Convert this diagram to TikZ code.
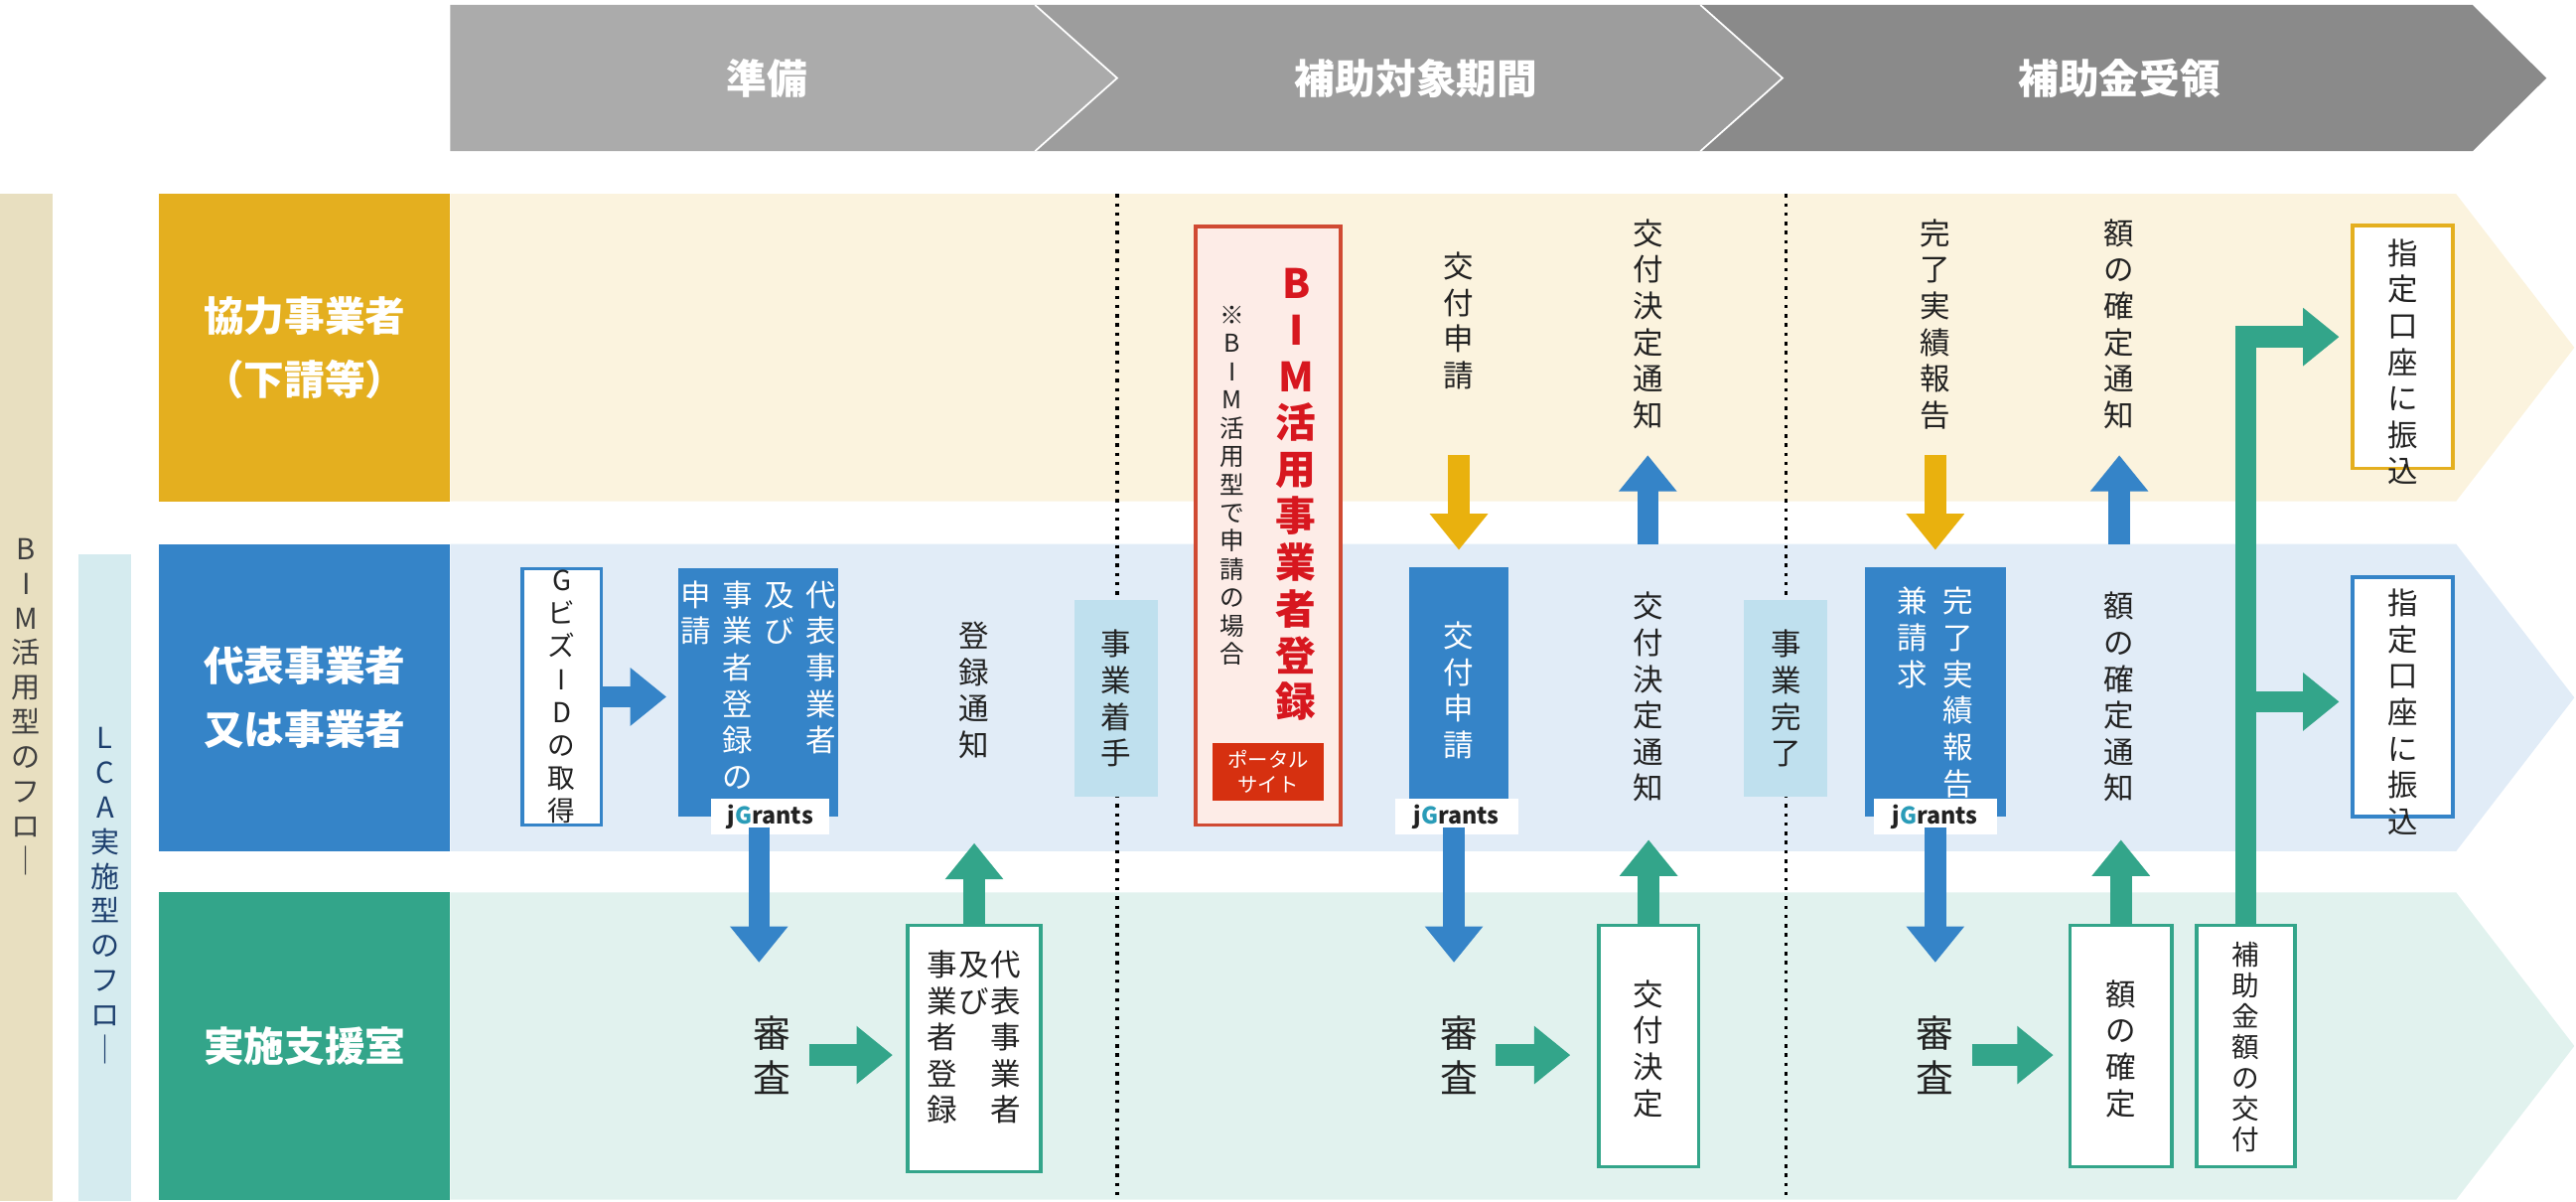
\documentclass[tikz,border=0pt]{standalone}
\usepackage{fontspec}
\setmainfont{Noto Sans CJK JP}
\usetikzlibrary{arrows.meta}
\definecolor{hdA}{HTML}{ABABAB}
\definecolor{hdB}{HTML}{9D9D9D}
\definecolor{hdC}{HTML}{8A8A8A}
\definecolor{yel}{HTML}{E4AF1F}
\definecolor{yelband}{HTML}{FBF3DE}
\definecolor{yarrow}{HTML}{E9B10E}
\definecolor{blu}{HTML}{3584C8}
\definecolor{bluband}{HTML}{E1ECF7}
\definecolor{grn}{HTML}{33A58A}
\definecolor{grnband}{HTML}{E1F2EE}
\definecolor{bimbar}{HTML}{E8DFC0}
\definecolor{lcabar}{HTML}{D5EBEF}
\definecolor{lcatext}{HTML}{1D3F6E}
\definecolor{redtxt}{HTML}{D7171F}
\definecolor{redfill}{HTML}{FDECE7}
\definecolor{redline}{HTML}{D04A33}
\definecolor{portal}{HTML}{D63010}
\definecolor{startbox}{HTML}{BFE0EE}
\definecolor{jteal}{HTML}{2A9CB8}
\definecolor{txt}{HTML}{222222}
\makeatletter
\newcommand\tate[2][1.2em]{\vtop{\hsize=1.05em \baselineskip=#1 \lineskip=0pt
  \@tfor\tchar:=#2\do{\hbox to\hsize{\hss\tchar\hss}}}}
\makeatother

\begin{document}
\begin{tikzpicture}[x=0.2mm,y=-0.2mm,
hdtext/.style={white, font=\fontsize{14}{16}\selectfont\bfseries},
rowlab/.style={text=white, align=center, font=\fontsize{14}{22}\selectfont\bfseries, minimum width=35.4mm, minimum height=37.4mm, inner sep=0pt},
tx/.style={text=txt, inner sep=0pt, font=\fontsize{10.5}{12}\selectfont},
wtx/.style={tx, text=white},
wbox/.style={draw=#1, fill=white, line width=1.3pt, inner sep=0pt, text=txt, font=\fontsize{10.5}{12}\selectfont},
fbox/.style={fill=#1, inner sep=0pt},
jg/.style={fill=white, inner sep=0pt, minimum width=14.4mm, minimum height=4.4mm, font=\fontsize{8}{9}\selectfont\bfseries, text=txt},
fat/.style={line width=2.6mm, -{Triangle[length=4.4mm,width=6.8mm]}},
barrow/.style={fat, blu},
garrow/.style={fat, grn},
yarr/.style={fat, yarrow},
]
\useasboundingbox (0,0) rectangle (1568,731);

% header
\fill[hdC] (1035,3) -- (1505,3) -- (1550,47.5) -- (1505,92) -- (1035,92) -- (1085,47.5) -- cycle;
\fill[hdB] (630,3) -- (1035,3) -- (1085,47.5) -- (1035,92) -- (630,92) -- (680,47.5) -- cycle;
\fill[hdA] (274,3) -- (630,3) -- (680,47.5) -- (630,92) -- (274,92) -- cycle;
\draw[white, line width=0.6pt] (630,3) -- (680,47.5) -- (630,92);
\draw[white, line width=0.6pt] (1035,3) -- (1085,47.5) -- (1035,92);
\node[hdtext] (h1) at (467,47.5) {準備};
\node[hdtext] (h2) at (862,47.5) {補助対象期間};
\node[hdtext] (h3) at (1290,47.5) {補助金受領};

% side bars
\fill[bimbar] (0,118) rectangle (32,731);
\fill[lcabar] (48,337) rectangle (80,731);
\node[tx, text=black!75, font=\fontsize{10}{12}\selectfont] (bimflow) at (16,430) {\tate{BIM活用型のフロ｜}};
\node[tx, text=lcatext, font=\fontsize{10}{12}\selectfont] (lcaflow) at (64,545) {\tate{LCA実施型のフロ｜}};

% bands
\fill[yelband] (274,118) -- (1495,118) -- (1567,211.5) -- (1495,305) -- (274,305) -- cycle;
\fill[bluband] (274,331) -- (1495,331) -- (1567,424.5) -- (1495,518) -- (274,518) -- cycle;
\fill[grnband] (274,543) -- (1495,543) -- (1567,636.5) -- (1495,730) -- (274,730) -- cycle;
\node[rowlab, fill=yel] (kyoryoku) at (185.5,211.5) {協力事業者\\（下請等）};
\node[rowlab, fill=blu] (daihyo) at (185.5,424.5) {代表事業者\\又は事業者};
\node[rowlab, fill=grn] (shien) at (185.5,636.5) {実施支援室};

% phase borders
\draw[dotted, line width=1.2pt] (680,118) -- (680,730);
\draw[dotted, line width=1.2pt] (1087,118) -- (1087,730);
\node[fbox=startbox, minimum width=10.2mm, minimum height=24mm, tx] (chakushu) at (679.5,425) {\tate{事業着手}};
\node[fbox=startbox, minimum width=10.2mm, minimum height=24mm, tx] (kanryo) at (1087,425) {\tate{事業完了}};

% preparation
\node[wbox=blu, minimum width=9.6mm, minimum height=31.2mm, font=\fontsize{9.5}{11}\selectfont] (gbiz) at (342,424) {\tate{GビズIDの取得}};
\node[fbox=blu, minimum width=19.4mm, minimum height=30.2mm] (toroku) at (461.5,421.5) {};
\node[wtx, anchor=north] (torokutx) at (461.5,353) {\tate{申請}\hspace{1.2mm}\tate{事業者登録の}\hspace{1.2mm}\tate{及び}\hspace{1.2mm}\tate{代表事業者}};
\node[jg] (jg1) at (469,497) {j{\color{jteal}G}rants};
\node[tx, font=\fontsize{13}{15}\selectfont] (shinsa1) at (470,642) {\tate{審査}};
\node[wbox=grn, minimum width=16.2mm, minimum height=30mm] (uketsuke) at (593,638) {};
\node[tx, anchor=north] (uketsuketx) at (593,578) {\tate{事業者登録}\tate{及び}\tate{代表事業者}};
\node[tx, anchor=north] (tsuchi1) at (593,378) {\tate{登録通知}};
\draw[barrow, shorten >=1.4mm] (gbiz.east) -- (gbiz.east -| toroku.west);
\draw[barrow, shorten <=-1mm, shorten >=6.4mm] (jg1.south -| 462,0) -- (shinsa1.north -| 462,0);
\draw[garrow, shorten <=2mm, shorten >=1.6mm] (shinsa1.east) -- (shinsa1.east -| uketsuke.west);
\draw[garrow, shorten >=1.4mm] (uketsuke.north) -- (593,506);

% BIM registration
\node[draw=redline, fill=redfill, line width=1.3pt, minimum width=17.6mm, minimum height=72.8mm, inner sep=0pt] (bim) at (772,320) {};
\node[tx, text=redtxt, anchor=north, font=\fontsize{14}{16}\selectfont\bfseries] (bimtx) at (789,163) {\tate[1.15em]{BIM活用事業者登録}};
\node[tx, anchor=north, font=\fontsize{8.5}{10}\selectfont] (bimnote) at (750,186) {\tate[1.15em]{※BIM活用型で申請の場合}};
\node[fbox=portal, minimum width=13.6mm, minimum height=7mm, text=white, align=center, font=\fontsize{7}{8.5}\selectfont] (portalsite) at (772,469.5) {ポータル\\サイト};

% grant application
\node[tx, anchor=north] (kofushinsei1) at (888,153) {\tate{交付申請}};
\node[fbox=blu, minimum width=12mm, minimum height=29.6mm] (kofushinsei) at (888,419) {};
\node[wtx, anchor=north] (kofushinseitx) at (888,378) {\tate{交付申請}};
\node[jg, minimum width=15mm] (jg2) at (886.5,497) {j{\color{jteal}G}rants};
\node[tx, font=\fontsize{13}{15}\selectfont] (shinsa2) at (888,642) {\tate{審査}};
\node[wbox=grn, minimum width=12.2mm, minimum height=29.4mm] (kettei) at (1003.5,636.5) {};
\node[tx, anchor=north] (ketteitx) at (1003.5,596) {\tate{交付決定}};
\node[tx, anchor=north] (ketteitsuchi2) at (1003,360) {\tate{交付決定通知}};
\node[tx, anchor=north] (ketteitsuchi1) at (1003,133) {\tate{交付決定通知}};
\draw[yarr, shorten >=2mm] (888,277) -- (kofushinsei.north);
\draw[barrow, shorten <=-1mm, shorten >=6.4mm] (jg2.south -| 885,0) -- (shinsa2.north -| 885,0);
\draw[garrow, shorten <=2mm, shorten >=3.2mm] (shinsa2.east) -- (shinsa2.east -| kettei.west);
\draw[garrow, shorten >=1.4mm] (kettei.north) -- (1003.5,504);
\draw[barrow] (1003,331) -- (1003,277);

% completion
\node[tx, anchor=north] (jisseki1) at (1178,133) {\tate{完了実績報告}};
\node[fbox=blu, minimum width=17.2mm, minimum height=30.4mm] (jisseki) at (1178,421) {};
\node[wtx, anchor=north] (jissekitx) at (1178,357) {\tate{兼請求}\hspace{1.6mm}\tate{完了実績報告}};
\node[jg, minimum width=15mm] (jg3) at (1178,497) {j{\color{jteal}G}rants};
\node[tx, font=\fontsize{13}{15}\selectfont] (shinsa3) at (1178,642) {\tate{審査}};
\node[wbox=grn, minimum width=12.4mm, minimum height=29.4mm] (kakutei) at (1291,636.5) {};
\node[tx, anchor=north] (kakuteitx) at (1291,596) {\tate{額の確定}};
\node[tx, anchor=north] (kakuteitsuchi2) at (1290,360) {\tate{額の確定通知}};
\node[tx, anchor=north] (kakuteitsuchi1) at (1290,133) {\tate{額の確定通知}};
\draw[yarr, shorten >=2mm] (1178,277) -- (jisseki.north);
\draw[barrow, shorten <=-1mm, shorten >=6.4mm] (jg3.south) -- (shinsa3.north);
\draw[garrow, shorten <=2mm, shorten >=1.8mm] (shinsa3.east) -- (shinsa3.east -| kakutei.west);
\draw[garrow, shorten >=1.4mm] (kakutei.north) -- (1291,504);
\draw[barrow] (1290,331) -- (1290,277);

% payment
\node[wbox=grn, minimum width=12mm, minimum height=29.4mm] (kofu) at (1367,636.5) {};
\node[tx, anchor=north, font=\fontsize{9.5}{11}\selectfont] (kofutx) at (1367,573) {\tate[1.12em]{補助金額の交付}};
\node[wbox=yel, minimum width=12.2mm, minimum height=29.6mm] (furikomi1) at (1462.5,211) {};
\node[tx, anchor=north] (furikomi1tx) at (1462.5,145) {\tate{指定口座に振込}};
\node[wbox=blu, minimum width=12.2mm, minimum height=29.2mm] (furikomi2) at (1462.5,424) {};
\node[tx, anchor=north] (furikomi2tx) at (1462.5,358) {\tate{指定口座に振込}};
\coordinate (br1) at (1367,205);
\coordinate (br2) at (1367,427);
\draw[grn, line width=2.6mm] (kofu.north) -- ([yshift=-1.3mm]br1);
\draw[garrow, shorten >=1.4mm] ([xshift=-1.3mm]br1) -- (br1 -| furikomi1.west);
\draw[garrow, shorten >=1.4mm] (br2) -- (br2 -| furikomi2.west);
\end{tikzpicture}
\end{document}
